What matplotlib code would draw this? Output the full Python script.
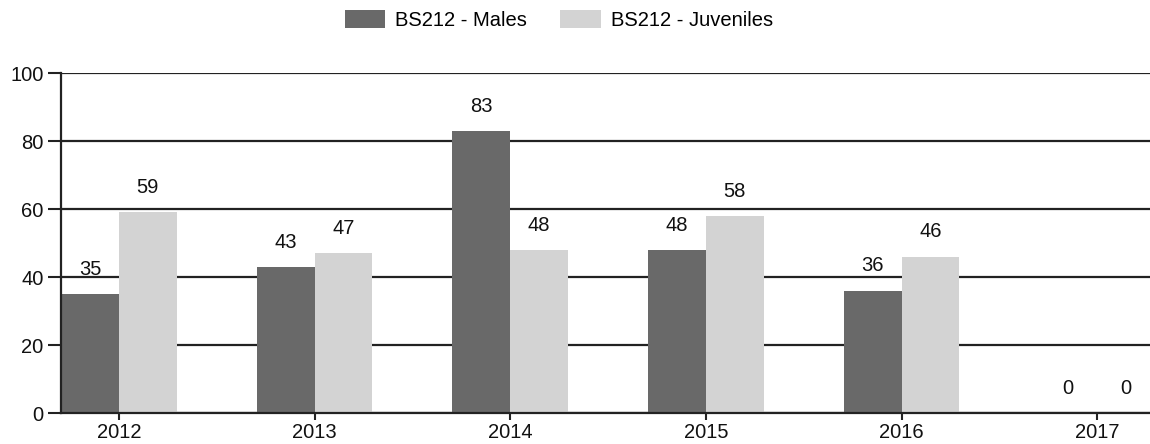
import numpy as np
import matplotlib.pyplot as plt

plt.rcParams['font.family'] = ['Liberation Sans', 'DejaVu Sans']

years = ["2012", "2013", "2014", "2015", "2016", "2017"]
males = [35, 43, 83, 48, 36, 0]
juveniles = [59, 47, 48, 58, 46, 0]

fs = 14.5

fig = plt.figure(figsize=(11.5, 4.44), dpi=100)
ax = fig.add_axes([61 / 1150, 1 - 413 / 444, 1 - 61 / 1150, (413 - 73) / 444])

x = np.arange(len(years))
w = 0.296
b1 = ax.bar(x - w / 2, males, w, color="#696969", label="BS212 - Males", zorder=2)
b2 = ax.bar(x + w / 2, juveniles, w, color="#d3d3d3", label="BS212 - Juveniles", zorder=2)

for bars in (b1, b2):
    for r in bars:
        h = r.get_height()
        ax.annotate(str(int(h)), (r.get_x() + r.get_width() / 2, h),
                    xytext=(0, 11), textcoords="offset points",
                    ha="center", va="bottom", fontsize=fs, color="#111111")

ax.set_ylim(0, 100)
ax.set_yticks(range(0, 101, 20))
ax.set_xlim(-w, len(years) - 1 + 0.27)
ax.set_xticks(x)
ax.set_xticklabels(years)
ax.tick_params(axis="both", labelsize=fs, width=1.5, colors="#222222", labelcolor="#111111")
ax.tick_params(axis="y", length=9.5, pad=3)
ax.tick_params(axis="x", length=5, pad=2)
ax.yaxis.grid(True, color="#222222", linewidth=1.6, zorder=1)
ax.set_axisbelow(True)
for s in ("top", "right"):
    ax.spines[s].set_visible(False)
for s in ("left", "bottom"):
    ax.spines[s].set_linewidth(1.6)
    ax.spines[s].set_color("#222222")
    ax.spines[s].set_zorder(3)

fig.legend(handles=[b1, b2], loc="center", bbox_to_anchor=(0.486, 1 - 20 / 444), ncol=2,
           frameon=False, fontsize=fs, handlelength=2.0, handleheight=0.95,
           handletextpad=0.5, columnspacing=1.65, borderpad=0)

fig.savefig("out.png", dpi=100)
